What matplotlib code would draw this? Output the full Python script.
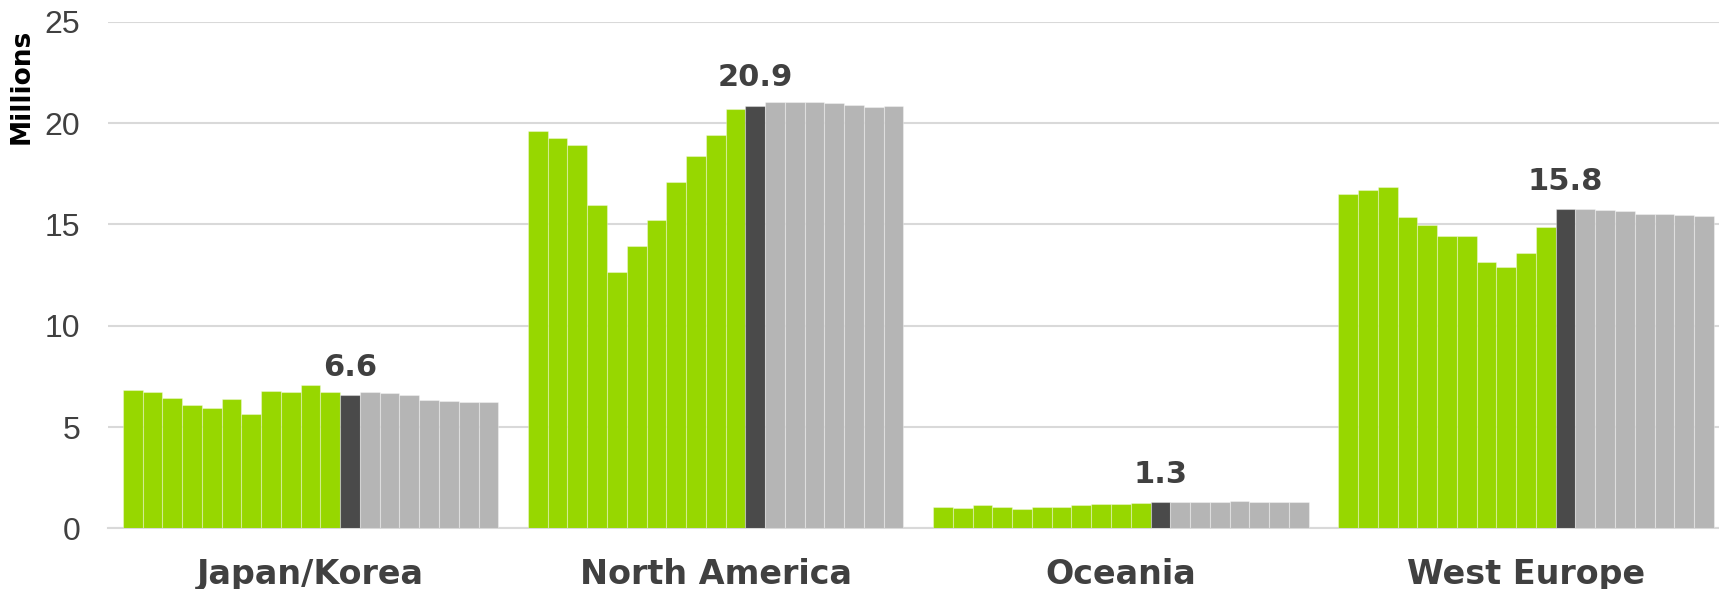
import numpy as np
import matplotlib
matplotlib.use("Agg")
import matplotlib.pyplot as plt

regions = ["Japan/Korea", "North America", "Oceania", "West Europe"]

# 11 historical years (green), current year (dark), 7 forecast years (gray)
japan_korea = [6.81, 6.74, 6.44, 6.11, 5.96, 6.39, 5.65, 6.76, 6.74, 7.06, 6.72,
               6.56,
               6.74, 6.69, 6.56, 6.35, 6.30, 6.26, 6.22]
north_america = [19.63, 19.28, 18.94, 15.94, 12.65, 13.96, 15.24, 17.09, 18.37, 19.44, 20.69,
                 20.87,
                 21.04, 21.02, 21.02, 20.98, 20.91, 20.80, 20.85]
oceania = [1.04, 1.02, 1.13, 1.06, 0.94, 1.07, 1.04, 1.17, 1.20, 1.20, 1.24,
           1.30,
           1.31, 1.30, 1.28, 1.33, 1.30, 1.30, 1.28]
west_europe = [16.50, 16.70, 16.85, 15.37, 14.98, 14.44, 14.41, 13.13, 12.89, 13.61, 14.87,
               15.76,
               15.78, 15.69, 15.67, 15.54, 15.50, 15.48, 15.44]
highlight_labels = ["6.6", "20.9", "1.3", "15.8"]

series = [japan_korea, north_america, oceania, west_europe]
n_hist = 11
n_bars = 19

GREEN = "#97d700"
DARK = "#4a4a4a"
GRAY = "#b5b5b5"
TEXT = "#404040"

fig = plt.figure(figsize=(17.19, 5.89), dpi=100)
ax = fig.add_axes([0.0628, 0.1029, 0.9428, 0.860])

group_frac = 375.4 / 405.0
bw = group_frac / n_bars
colors = [GREEN] * n_hist + [DARK] + [GRAY] * (n_bars - n_hist - 1)

for g, vals in enumerate(series):
    x = g - group_frac / 2 + bw * (np.arange(n_bars) + 0.5)
    ax.bar(x, vals, width=bw, color=colors, edgecolor=(1, 1, 1, 0.35),
           linewidth=0.8, zorder=3)
    ax.text(x[n_hist], vals[n_hist] + 0.65, highlight_labels[g], ha="center",
            va="bottom", fontsize=22, fontweight="bold", color=TEXT,
            family="DejaVu Sans")

ax.set_xlim(-0.5, 3.5)
ax.set_ylim(0, 25)
ax.set_yticks([0, 5, 10, 15, 20, 25])
ax.yaxis.grid(True, color="#d9d9d9", linewidth=1.5, zorder=0)
ax.set_axisbelow(True)
for s in ["top", "right", "left"]:
    ax.spines[s].set_visible(False)
ax.spines["bottom"].set_color("#d9d9d9")
ax.spines["bottom"].set_linewidth(1.5)

ax.set_xticks(range(len(regions)))
ax.set_xticklabels(regions, fontsize=24, fontweight="bold", color=TEXT,
                   family="DejaVu Sans")
ax.tick_params(axis="x", length=0, pad=21)
ax.tick_params(axis="y", length=0, pad=20, labelsize=23, labelcolor=TEXT)
for lab in ax.get_yticklabels():
    lab.set_family("Liberation Sans")

fig.text(22 / 1719, 1 - 86 / 589, "Millions", rotation=90, ha="center",
         va="center", fontsize=19, fontweight="bold", color="black",
         family="DejaVu Sans")

fig.savefig("out.png", dpi=100)
